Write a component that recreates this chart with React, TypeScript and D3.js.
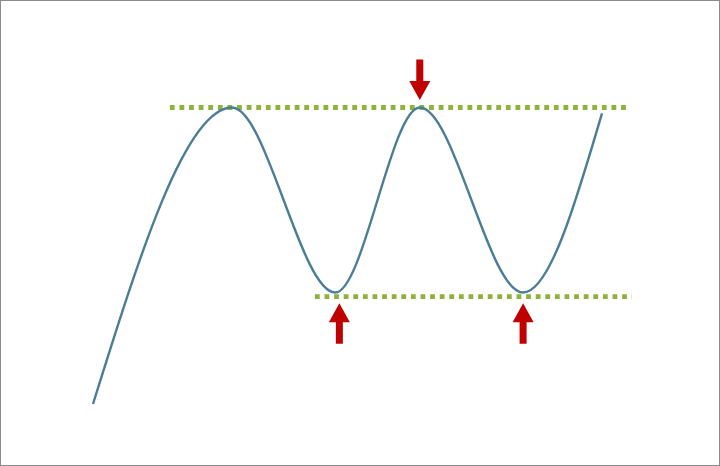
import React from 'react';
import * as d3 from 'd3';

// price path (time, price): start, turning points, end
const times = [0, 27.3, 47.6, 64.2, 84.5, 100];
const prices = [0, 100, 37.6, 100, 37.6, 98.0];

// support / resistance levels
const resistance = { level: 100, from: 15.1, to: 105.1 };
const support = { level: 36.2, from: 43.6, to: 105.9 };

// arrows marking the touches
const arrowTimes = [64.2, 48.4, 84.5];
const arrowDirs = ['down', 'up', 'up'];

const W = 720;
const H = 466;

interface Pt { t: number; p: number }

const App: React.FC = () => {
  const x = d3.scaleLinear().domain([0, 100]).range([93, 602]);
  const y = d3.scaleLinear().domain([0, 100]).range([404, 107.5]);

  const data: Pt[] = times.map((t, i) => ({ t, p: prices[i] }));
  const line = d3.line<Pt>()
    .x(d => x(d.t))
    .y(d => y(d.p))
    .curve(d3.curveMonotoneX);

  // arrow shape, tip at origin pointing down
  const arrowPath = (len: number, headLen: number, headW: number, shaftW: number) => {
    const p = d3.path();
    p.moveTo(0, 0);
    p.lineTo(-headW / 2, -headLen);
    p.lineTo(-shaftW / 2, -headLen);
    p.lineTo(-shaftW / 2, -len);
    p.lineTo(shaftW / 2, -len);
    p.lineTo(shaftW / 2, -headLen);
    p.lineTo(headW / 2, -headLen);
    p.closePath();
    return p.toString();
  };
  const arrowD = arrowPath(40.5, 19, 21, 7);

  const levels = [resistance, support];

  return (
    <svg width={W} height={H} style={{ position: 'absolute', left: 0, top: 0, background: '#fff' }}>
      <rect x={0.5} y={0.5} width={W - 1} height={H - 1} fill="#fff" stroke="#8c8c8c" strokeWidth={1} />
      {levels.map((l, i) => (
        <line
          key={i}
          x1={x(l.from)}
          x2={x(l.to)}
          y1={y(l.level)}
          y2={y(l.level)}
          stroke="#8db33a"
          strokeWidth={4.8}
          strokeDasharray="4.8 4.8"
        />
      ))}
      <path d={line(data) || ''} fill="none" stroke="#4a7d96" strokeWidth={2.4} />
      {arrowTimes.map((t, i) => {
        const down = arrowDirs[i] === 'down';
        const tipY = down ? y(resistance.level) - 7.5 : y(support.level) + 6.5;
        return (
          <path
            key={i}
            d={arrowD}
            fill="#c00000"
            transform={`translate(${x(t)},${tipY}) rotate(${down ? 0 : 180})`}
          />
        );
      })}
    </svg>
  );
};

export default App;
